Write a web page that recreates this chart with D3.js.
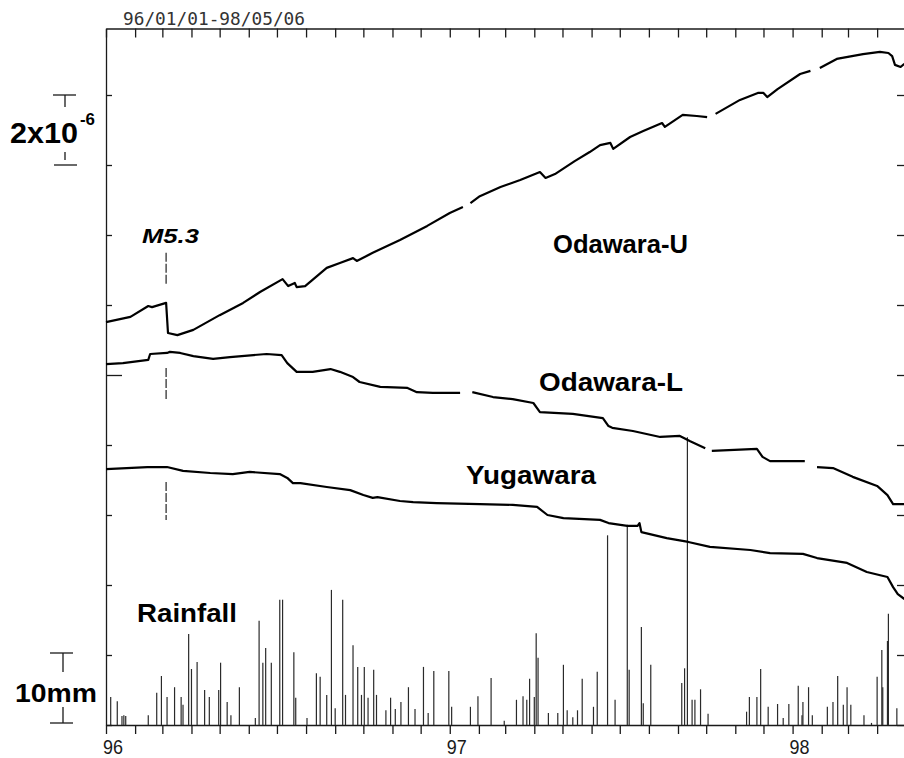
<!DOCTYPE html>
<html>
<head>
<meta charset="utf-8">
<script src="https://cdn.jsdelivr.net/npm/d3@7"></script>
<style>
  body { margin: 0; background: #fff; }
  svg { display: block; }
</style>
</head>
<body>
<script>
// record span shown in the header
const period = "96/01/01-98/05/06"
const startDate = new Date(Date.UTC(1996, 0, 1))
const endDate = new Date(Date.UTC(1998, 4, 6))
const yearLabels = ["96", "97", "98"]

// strain traces: [day since 96/01/01, strain in 1e-6] (null = data gap)
const odawaraU = [
    [0, 11.51], [26, 11.66], [45, 11.97], [49, 11.94], [64, 12.06], [66, 11.2], [76, 11.14], [93, 11.29],
    [121, 11.71], [146, 12.06], [164, 12.37], [188, 12.74], [194, 12.54], [201, 12.63], [203, 12.51],
    [212, 12.54], [235, 13.06], [249, 13.2], [263, 13.34], [267, 13.26], [284, 13.49], [313, 13.86],
    [342, 14.26], [366, 14.63], [380, 14.8], [384, null], [388, 14.91], [398, 15.11], [420, 15.37],
    [441, 15.57], [462, 15.8], [468, 15.63], [478, 15.74], [499, 16.11], [515, 16.37], [526, 16.57],
    [537, 16.63], [540, 16.46], [558, 16.8], [572, 16.97], [592, 17.2], [595, 17.09], [614, 17.43],
    [629, 17.4], [640, 17.37], [644, null], [649, 17.46], [675, 17.86], [694, 18.06], [700, 18.06],
    [704, 17.94], [715, 18.17], [739, 18.6], [750, 18.69], [755, null], [760, 18.77], [778, 19.03],
    [806, 19.17], [824, 19.23], [833, 19.2], [837, 19.11], [840, 18.86], [846, 18.8], [850, 18.89]
]
const odawaraL = [
    [0, 10.31], [18, 10.34], [45, 10.43], [47, 10.6], [65, 10.63], [68, 10.66], [79, 10.63], [93, 10.54],
    [114, 10.46], [132, 10.51], [157, 10.57], [171, 10.6], [187, 10.57], [193, 10.34], [203, 10.09],
    [220, 10.09], [239, 10.17], [249, 10.09], [263, 9.94], [270, 9.8], [292, 9.66], [321, 9.63],
    [331, 9.51], [348, 9.49], [377, 9.49], [383, null], [390, 9.51], [412, 9.37], [433, 9.31],
    [455, 9.2], [462, 8.94], [497, 8.89], [529, 8.77], [535, 8.54], [539, 8.49], [561, 8.4],
    [590, 8.23], [611, 8.26], [622, 8.11], [638, 7.91], [641, null], [645, 7.83], [693, 7.89],
    [699, 7.66], [707, 7.54], [744, 7.54], [750, null], [757, 7.37], [774, 7.34], [795, 7.09],
    [821, 6.83], [832, 6.57], [838, 6.31], [850, 6.31]
]
const yugawara = [
    [0, 7.31], [22, 7.34], [44, 7.37], [65, 7.37], [82, 7.26], [111, 7.2], [135, 7.17], [153, 7.23],
    [185, 7.17], [193, 7.06], [199, 6.91], [207, 6.91], [235, 6.8], [260, 6.71], [274, 6.57],
    [284, 6.49], [289, 6.51], [313, 6.4], [327, 6.37], [352, 6.34], [398, 6.31], [433, 6.29],
    [459, 6.23], [470, 6.0], [487, 5.91], [526, 5.86], [535, 5.77], [555, 5.69], [566, 5.69],
    [568, 5.77], [570, 5.51], [597, 5.34], [620, 5.23], [643, 5.09], [686, 5.0], [707, 4.91],
    [742, 4.89], [757, 4.77], [789, 4.63], [810, 4.37], [832, 4.23], [838, 3.94], [843, 3.74], [850, 3.6]
]

// daily rainfall: [day, mm]
const rainfall = [
    [5, 4.0], [12, 3.4], [17, 1.3], [19, 1.4], [21, 1.3], [45, 1.4], [54, 4.6], [59, 7.0], [65, 4.0],
    [73, 5.4], [80, 4.0], [82, 2.9], [88, 13.0], [91, 8.0], [97, 9.0], [105, 5.0], [110, 4.0], [120, 5.0],
    [122, 8.9], [129, 3.3], [133, 1.4], [142, 5.4], [159, 1.0], [163, 14.9], [167, 8.9], [170, 11.0],
    [176, 8.9], [185, 17.9], [188, 17.9], [200, 10.4], [202, 3.9], [214, 1.0], [224, 7.4], [228, 6.9],
    [235, 4.3], [240, 19.3], [244, 2.4], [252, 17.9], [255, 4.3], [263, 11.4], [268, 8.3], [272, 4.3],
    [275, 8.3], [279, 3.9], [285, 7.9], [288, 4.3], [298, 2.1], [303, 3.9], [308, 2.3], [314, 3.3],
    [322, 5.4], [329, 2.3], [338, 8.3], [343, 1.7], [349, 7.7], [365, 7.7], [368, 2.6], [388, 2.6],
    [396, 4.1], [410, 6.7], [424, 0.6], [437, 3.6], [444, 4.1], [448, 3.6], [451, 6.6], [456, 4.0],
    [458, 13.1], [460, 9.6], [471, 1.7], [481, 1.7], [487, 8.6], [491, 2.1], [497, 1.1], [502, 2.1],
    [507, 6.6], [519, 2.6], [523, 7.6], [534, 27.1], [542, 3.6], [555, 28.6], [557, 7.9], [570, 14.0],
    [572, 3.1], [580, 8.6], [613, 6.0], [616, 8.1], [619, 41.1], [624, 3.6], [627, 3.6], [633, 5.1],
    [641, 1.6], [682, 1.9], [685, 4.0], [693, 4.0], [697, 8.0], [705, 2.6], [715, 3.0], [721, 1.0],
    [727, 3.0], [737, 5.6], [741, 1.4], [742, 3.3], [748, 5.4], [752, 1.4], [768, 2.6], [774, 3.3],
    [779, 7.0], [785, 2.9], [789, 5.4], [793, 2.9], [807, 1.4], [815, 0.3], [821, 6.9], [826, 10.7],
    [827, 5.4], [832, 12.0], [833, 15.9], [842, 2.4]
]

// M5.3 earthquake day and the strain ranges its marker covers
const quakeDay = 64
const quakeMarks = [[13.49, 12.6], [10.2, 9.3], [6.94, 5.86]]

const W = 904, H = 758
const svg = d3.select("body").append("svg")
    .attr("width", W)
    .attr("height", H)
    .style("font-family", "'Liberation Sans', Arial, sans-serif")

const x = d3.scaleUtc().domain([startDate, endDate]).range([106, 910])
const y = d3.scaleLinear().domain([0, 19.9]).range([725, 28.5])
const yRain = d3.scaleLinear().domain([0, 10]).range([725, 655])
const day = d => d3.utcDay.offset(startDate, d)

const ink = "#1a1a1a"

// axes
const months = d3.utcMonth.range(startDate, endDate)
const axisBot = svg.append("g").attr("transform", `translate(0,${y(0)})`)
    .call(d3.axisBottom(x).tickValues(months).tickSize(9).tickSizeOuter(0).tickFormat(""))
const axisTop = svg.append("g").attr("transform", `translate(0,${y(19.9)})`)
    .call(d3.axisBottom(x).tickValues(months).tickSize(9).tickSizeOuter(0).tickFormat(""))
const axisL = svg.append("g").attr("transform", `translate(106,0)`)
    .call(d3.axisRight(y).tickValues(d3.range(0, 20, 2)).tickSize(6).tickSizeOuter(0).tickFormat(""))
const axisR = svg.append("g").attr("transform", `translate(910,0)`)
    .call(d3.axisLeft(y).tickValues(d3.range(0, 20, 2)).tickSize(13).tickSizeOuter(0).tickFormat(""))
svg.selectAll(".domain, .tick line").attr("stroke", ink).attr("stroke-width", 1.3)
axisR.select(".domain").remove()
axisL.selectAll(".tick line").filter(d => d === 10).attr("x2", 16)

svg.append("g").selectAll("text")
    .data(yearLabels)
    .enter()
    .append("text")
    .attr("x", (_d, i) => x(new Date(Date.UTC(1996 + i, 0, 1))) - 3)
    .attr("y", 754)
    .attr("font-size", 20)
    .attr("textLength", 20)
    .attr("lengthAdjust", "spacingAndGlyphs")
    .attr("fill", ink)
    .text(d => d)

svg.append("text")
    .attr("x", 123)
    .attr("y", 25)
    .attr("font-family", "'DejaVu Sans Mono', monospace")
    .attr("font-size", 17)
    .attr("textLength", 182)
    .attr("lengthAdjust", "spacingAndGlyphs")
    .attr("fill", "#333")
    .text(period)

// rainfall bars
svg.append("g").selectAll("line")
    .data(rainfall)
    .enter()
    .append("line")
    .attr("x1", d => x(day(d[0])))
    .attr("x2", d => x(day(d[0])))
    .attr("y1", yRain(0))
    .attr("y2", d => yRain(d[1]))
    .attr("stroke", "#2a2a2a")
    .attr("stroke-width", 1.2)

// strain traces
const line = d3.line()
    .defined(d => d[1] !== null)
    .x(d => x(day(d[0])))
    .y(d => y(d[1]))

svg.append("g").selectAll("path")
    .data([odawaraU, odawaraL, yugawara])
    .enter()
    .append("path")
    .attr("d", line)
    .attr("fill", "none")
    .attr("stroke", "#000")
    .attr("stroke-width", 2.2)
    .attr("stroke-linejoin", "round")

// earthquake marker
svg.append("g").selectAll("line")
    .data(quakeMarks)
    .enter()
    .append("line")
    .attr("x1", x(day(quakeDay)))
    .attr("x2", x(day(quakeDay)))
    .attr("y1", d => y(d[0]))
    .attr("y2", d => y(d[1]))
    .attr("stroke", "#333")
    .attr("stroke-width", 1.3)
    .attr("stroke-dasharray", "9,2")

// labels (the scan is a little wide, so widths are fitted)
const labels = [
    { text: "Odawara-U", x: 553, y: 253, size: 25, w: 135 },
    { text: "Odawara-L", x: 539, y: 391, size: 25, w: 144 },
    { text: "Yugawara", x: 466, y: 484, size: 25, w: 130 },
    { text: "Rainfall", x: 137, y: 622, size: 25, w: 100 },
    { text: "10mm", x: 15, y: 702, size: 26, w: 82 },
    { text: "2x10", x: 10, y: 143, size: 30, w: 68 }
]
svg.append("g").selectAll("text")
    .data(labels)
    .enter()
    .append("text")
    .attr("x", d => d.x)
    .attr("y", d => d.y)
    .attr("font-size", d => d.size)
    .attr("font-weight", "bold")
    .attr("textLength", d => d.w)
    .attr("lengthAdjust", "spacingAndGlyphs")
    .attr("fill", "#000")
    .text(d => d.text)

svg.append("text")
    .attr("x", 80)
    .attr("y", 125)
    .attr("font-size", 17)
    .attr("font-weight", "bold")
    .attr("textLength", 15)
    .attr("lengthAdjust", "spacingAndGlyphs")
    .text("-6")

svg.append("text")
    .attr("x", 142)
    .attr("y", 243)
    .attr("font-size", 21)
    .attr("font-weight", "bold")
    .attr("font-style", "italic")
    .attr("textLength", 57)
    .attr("lengthAdjust", "spacingAndGlyphs")
    .text("M5.3")

// scale bars: 2x10^-6 strain and 10 mm rain
const bar = svg.append("g").attr("stroke", ink).attr("stroke-width", 1.3)
const sx = 65
bar.append("line").attr("x1", sx - 12).attr("x2", sx + 11).attr("y1", y(18)).attr("y2", y(18))
bar.append("line").attr("x1", sx).attr("x2", sx).attr("y1", y(18)).attr("y2", y(18) + 12)
bar.append("line").attr("x1", sx - 11).attr("x2", sx + 12).attr("y1", y(16)).attr("y2", y(16))
bar.append("line").attr("x1", sx).attr("x2", sx).attr("y1", y(16) - 13).attr("y2", y(16) - 5)
const rx = 63
bar.append("line").attr("x1", rx - 13).attr("x2", rx + 10).attr("y1", yRain(10) - 2).attr("y2", yRain(10) - 2)
bar.append("line").attr("x1", rx).attr("x2", rx).attr("y1", yRain(10) - 2).attr("y2", yRain(10) + 17)
bar.append("line").attr("x1", rx - 13).attr("x2", rx + 10).attr("y1", yRain(0) - 2).attr("y2", yRain(0) - 2)
bar.append("line").attr("x1", rx).attr("x2", rx).attr("y1", yRain(0) - 18).attr("y2", yRain(0) - 2)
</script>
</body>
</html>
